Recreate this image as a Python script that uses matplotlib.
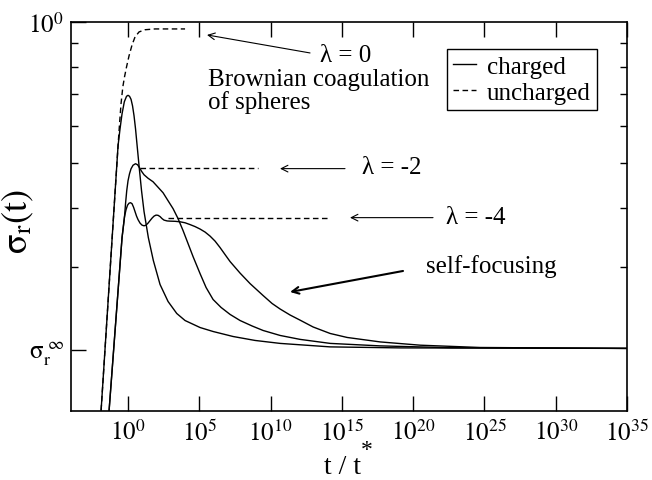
import matplotlib
matplotlib.use('Agg')
import matplotlib.pyplot as plt
from matplotlib.ticker import FixedLocator, NullFormatter, NullLocator
import numpy as np

plt.rcParams['font.family'] = 'serif'
plt.rcParams['font.serif'] = ['Liberation Serif', 'DejaVu Serif']
plt.rcParams['mathtext.fontset'] = 'stix'

# log10(t / t*) and sigma_r values
logt_unch0 = [-2.01, -0.70, -0.596, -0.491, -0.365, -0.246, -0.105, 0.070, 0.281, 0.491, 0.772,
              1.193, 1.895, 4.0]
sig_unch0 = [0.13, 0.544, 0.6056, 0.6683, 0.7262, 0.7627, 0.8009, 0.8455, 0.8920, 0.9277, 0.9508,
             0.9611, 0.9649, 0.9649]

logt_ch0 = [-2.01, -0.70, -0.561, -0.421, -0.26, -0.105, 0.0, 0.105, 0.211, 0.316, 0.421, 0.526,
            0.632, 0.793, 0.947, 1.123, 1.425, 1.775, 2.246, 2.807, 3.418, 4.0, 5.053, 5.965,
            7.368, 8.912, 10.667, 14.18, 19.09, 35.0]
sig_ch0 = [0.13, 0.544, 0.591, 0.636, 0.6749, 0.6933, 0.6966, 0.6933, 0.6831, 0.6615, 0.6301, 0.5910,
           0.5465, 0.4858, 0.4363, 0.3937, 0.3465, 0.3097, 0.2753, 0.2533, 0.2388, 0.2307, 0.2229, 0.2186,
           0.2133, 0.2092, 0.2062, 0.2027, 0.2017, 0.2012]

logt_ch2 = [-1.47, -0.42, -0.246, -0.175, -0.091, 0.0, 0.105, 0.211, 0.351, 0.526, 0.667, 0.807,
            0.947, 1.123, 1.404, 1.754, 2.105, 2.456, 2.807, 3.158, 3.509, 3.860, 4.211, 4.561,
            5.053, 5.474, 5.965, 6.526, 7.158, 7.860, 8.702, 9.474, 10.667, 12.07, 14.18, 17.68,
            22.6, 35.0]
sig_ch2 = [0.13, 0.3465, 0.3842, 0.4094, 0.4363, 0.4581, 0.4742, 0.4858, 0.4943, 0.4980, 0.4955, 0.4882,
           0.4799, 0.4717, 0.4637, 0.4558, 0.4437, 0.4319, 0.4153, 0.3995, 0.3804, 0.3587, 0.3365, 0.3157,
           0.2904, 0.2713, 0.2558, 0.2460, 0.2377, 0.2307, 0.2246, 0.2197, 0.2144, 0.2103, 0.2062, 0.2037,
           0.2019, 0.2012]

logt_ch4 = [-1.47, -0.42, -0.246, -0.140, -0.035, 0.070, 0.175, 0.281, 0.386, 0.491, 0.596, 0.702,
            0.842, 0.982, 1.123, 1.263, 1.404, 1.544, 1.684, 1.825, 1.965, 2.105, 2.246, 2.386,
            2.526, 2.737, 2.947, 3.298, 3.649, 4.0, 4.351, 4.702, 5.053, 5.404, 5.754, 6.105,
            6.456, 6.807, 7.158, 7.860, 8.561, 9.474, 10.105, 10.667, 11.368, 12.07, 12.982,
            14.175, 15.368, 17.684, 20.491, 24.702, 35.0]
sig_ch4 = [0.13, 0.3465, 0.3842, 0.3975, 0.4063, 0.4103, 0.4113, 0.4093, 0.4024, 0.3937, 0.3851, 0.3785,
           0.3721, 0.3684, 0.3672, 0.3684, 0.3721, 0.3767, 0.3813, 0.3851, 0.3870, 0.3866, 0.3842, 0.3804,
           0.3776, 0.3761, 0.3757, 0.3754, 0.3745, 0.3727, 0.3694, 0.3658, 0.3614, 0.3561, 0.3491, 0.3406,
           0.3300, 0.3188, 0.3081, 0.2911, 0.2765, 0.2608, 0.2508, 0.2441, 0.2370, 0.2311, 0.2235,
           0.2165, 0.2123, 0.2077, 0.2044, 0.2021, 0.2012]

logt_unch2 = [0.85, 9.12]
sig_unch2 = [0.488, 0.488]
logt_unch4 = [2.8, 14.04]
sig_unch4 = [0.381, 0.381]

xtick_exp = [0, 5, 10, 15, 20, 25, 30, 35]
ytick_minor = [0.2, 0.3, 0.4, 0.5, 0.6, 0.7, 0.8, 0.9]

fig = plt.figure(figsize=(6.52, 4.81), dpi=100)
ax = fig.add_axes([0.1089, 0.1435, 0.8528, 0.8094])

lw = 1.0
dash = (0, (4, 2.5))
ax.plot(10.0 ** np.array(logt_ch0), sig_ch0, color='black', lw=lw, label='charged')
ax.plot(10.0 ** np.array(logt_unch0), sig_unch0, color='black', lw=lw, linestyle=dash, label='uncharged')
ax.plot(10.0 ** np.array(logt_ch2), sig_ch2, color='black', lw=lw)
ax.plot(10.0 ** np.array(logt_ch4), sig_ch4, color='black', lw=lw)
ax.plot(10.0 ** np.array(logt_unch2), sig_unch2, color='black', lw=lw, linestyle=dash)
ax.plot(10.0 ** np.array(logt_unch4), sig_unch4, color='black', lw=lw, linestyle=dash)

ax.set_xscale('log')
ax.set_yscale('log')
ax.set_xlim(1e-4, 1e35)
ax.set_ylim(0.148, 1.0)

ax.xaxis.set_major_locator(FixedLocator([10.0 ** k for k in xtick_exp]))
ax.xaxis.set_minor_locator(NullLocator())
ax.set_xticklabels([r'$10^{%d}$' % k for k in xtick_exp])
ax.tick_params(axis='x', which='major', direction='in', length=11, width=1,
               top=True, bottom=True, labelsize=18, pad=6)

ax.yaxis.set_major_locator(FixedLocator([0.2, 1.0]))
ax.yaxis.set_minor_locator(FixedLocator(ytick_minor))
ax.yaxis.set_minor_formatter(NullFormatter())
ax.set_yticklabels([r'$\mathrm{σ}_\mathrm{r}^{\ \infty}$', r'$10^{0}$'])
ax.tick_params(axis='y', which='major', direction='in', length=11, width=1,
               left=True, right=False, labelsize=18, pad=5)
ax.tick_params(axis='y', which='minor', direction='in', length=5, width=1,
               left=True, right=True)

for s in ax.spines.values():
    s.set_linewidth(1.2)

ax.set_xlabel('t / t', fontsize=20)
ax.xaxis.set_label_coords(0.489, -0.160)
ax.xaxis.label.set_verticalalignment('baseline')
ax.text(0.532, -0.100, '*', transform=ax.transAxes, fontsize=17, ha='center', va='center')
ax.set_ylabel(r'$\mathrm{σ}_\mathrm{r}(\mathrm{t})$', fontsize=26)
ax.yaxis.set_label_coords(-0.063, 0.49)

leg = ax.legend(loc='upper right', bbox_to_anchor=(0.946, 0.93), fontsize=18,
                handlelength=0.9, handletextpad=0.45, borderpad=0.25, labelspacing=0.15,
                fancybox=False, framealpha=1, edgecolor='black', borderaxespad=0)
leg.get_frame().set_linewidth(1.0)

arrow = dict(arrowstyle='->', lw=0.8, color='black', shrinkA=0, shrinkB=0, mutation_scale=12)
tf = ax.transAxes
ax.annotate('', xy=(0.2446, 0.9659), xytext=(0.4299, 0.9196), xycoords=tf, textcoords=tf, arrowprops=arrow)
ax.text(0.4946, 0.9145, 'λ = 0', transform=tf, fontsize=18, ha='center', va='center')
ax.text(0.2464, 0.8528, 'Brownian coagulation', transform=tf, fontsize=18, ha='left', va='center')
ax.text(0.2464, 0.7937, 'of spheres', transform=tf, fontsize=18, ha='left', va='center')

ax.annotate('', xy=(0.3759, 0.6225), xytext=(0.4928, 0.6225), xycoords=tf, textcoords=tf, arrowprops=arrow)
ax.text(0.5773, 0.6264, 'λ = -2', transform=tf, fontsize=18, ha='center', va='center')

ax.annotate('', xy=(0.5018, 0.4966), xytext=(0.6511, 0.4966), xycoords=tf, textcoords=tf, arrowprops=arrow)
ax.text(0.7284, 0.4991, 'λ = -4', transform=tf, fontsize=18, ha='center', va='center')

arrow2 = dict(arrow, lw=1.5)
ax.annotate('', xy=(0.3939, 0.3056), xytext=(0.5971, 0.3596), xycoords=tf, textcoords=tf, arrowprops=arrow2)
ax.text(0.7563, 0.3732, 'self-focusing', transform=tf, fontsize=18, ha='center', va='center')

fig.savefig('out.png', dpi=100)
